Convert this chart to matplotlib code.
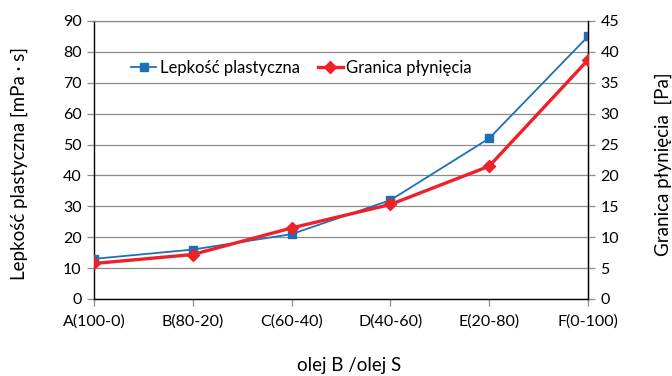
import matplotlib
matplotlib.use("Agg")
import matplotlib.pyplot as plt

plt.rcParams['font.family'] = ['Lato', 'DejaVu Sans']

categories = ["A(100-0)", "B(80-20)", "C(60-40)", "D(40-60)", "E(20-80)", "F(0-100)"]
lepkosc = [13, 16, 21, 32, 52, 85]              # mPa·s, left axis
granica = [5.75, 7.2, 11.5, 15.3, 21.5, 38.7]   # Pa, right axis

blue = "#1f6fb8"
red = "#f0202a"
grid_c = "#8c8c8c"

fig = plt.figure(figsize=(6.72, 3.76), dpi=100)
ax = fig.add_axes([94 / 672, 1 - 299 / 376, (588 - 94) / 672, (299 - 21) / 376])
ax2 = ax.twinx()

x = list(range(len(categories)))
l1, = ax.plot(x, lepkosc, color=blue, lw=1.3, marker="s", ms=5.5,
              label="Lepkość plastyczna", zorder=3)
l2, = ax2.plot(x, granica, color=red, lw=2.4, marker="D", ms=6,
               label="Granica płynięcia", zorder=3)

ax.set_xlim(0, len(categories) - 1)
ax.set_ylim(0, 90)
ax.set_yticks(range(0, 91, 10))
ax2.set_ylim(0, 45)
ax2.set_yticks(range(0, 46, 5))
ax.set_xticks(x)
ax.set_xticklabels(categories)

ax.yaxis.grid(True, color=grid_c, lw=0.9)
ax.set_axisbelow(True)

for s in ["left", "bottom", "right"]:
    ax.spines[s].set_color("black")
    ax.spines[s].set_linewidth(1.0)
ax.spines["top"].set_color(grid_c)
ax.spines["top"].set_linewidth(0.9)
for s in ax2.spines.values():
    s.set_visible(False)
ax2.spines["right"].set_visible(True)
ax2.spines["right"].set_color("black")

fs = 11.5
ax.tick_params(axis="y", direction="out", length=5, color=grid_c, width=0.9,
               labelsize=fs, pad=4)
ax.tick_params(axis="x", direction="out", length=5, color=grid_c, width=0.9,
               labelsize=fs, pad=6)
ax2.tick_params(axis="y", direction="out", length=5, color=grid_c, width=0.9,
                labelsize=fs, pad=4)

lab_fs = 13.5
fig.text(19 / 672, 1 - 164 / 376, "Lepkość plastyczna [mPa · s]", rotation=90,
         ha="center", va="center", fontsize=lab_fs)
fig.text(663 / 672, 1 - 164 / 376, "Granica płynięcia  [Pa]", rotation=90,
         ha="center", va="center", fontsize=lab_fs)
fig.text(349 / 672, 1 - 366 / 376, "olej B /olej S", ha="center", va="center",
         fontsize=lab_fs)

ax.legend(handles=[l1, l2], loc="center left", bbox_to_anchor=(0.062, 0.83),
          ncol=2, frameon=False, fontsize=12, handlelength=1.5,
          handletextpad=0.2, columnspacing=1.1, borderaxespad=0)

fig.savefig("out.png", dpi=100)
